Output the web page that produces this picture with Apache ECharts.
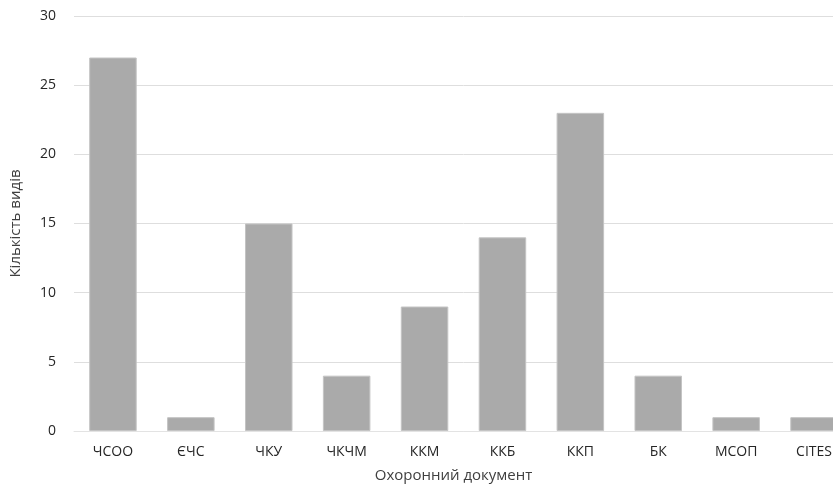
<!DOCTYPE html>
<html><head><meta charset="utf-8">
<script src="https://cdn.jsdelivr.net/npm/echarts@6/dist/echarts.min.js"></script>
<style>html,body{margin:0;padding:0;background:#fff;overflow:hidden}#c{width:853px;height:497px}</style>
</head><body><div id="c"></div>
<script>
const categories = ['ЧСОО','ЄЧС','ЧКУ','ЧКЧМ','ККМ','ККБ','ККП','БК','МСОП','CITES'];
const values = [27, 1, 15, 4, 9, 14, 23, 4, 1, 1];
const yTicks = {min: 0, max: 30, interval: 5};
const font = '"Open Sans", "Noto Sans", sans-serif';
const chart = echarts.init(document.getElementById('c'));
chart.setOption({
  animation: false,
  grid: {left: 73.5, right: 0, top: 16, bottom: 66},
  xAxis: {
    type: 'category', data: categories,
    name: 'Охоронний документ', nameLocation: 'middle', nameGap: 37,
    nameTextStyle: {fontFamily: font, fontSize: 15, color: '#404040', padding: [0, 20, 0, 0]},
    axisLine: {lineStyle: {color: '#e3e3e3'}},
    axisTick: {show: false},
    axisLabel: {fontFamily: font, fontSize: 14, color: '#262626', margin: 14}
  },
  yAxis: {
    type: 'value', min: yTicks.min, max: yTicks.max, interval: yTicks.interval,
    name: 'Кількість видів', nameLocation: 'middle', nameGap: 51, nameRotate: 90,
    nameTextStyle: {fontFamily: font, fontSize: 15, color: '#404040'},
    axisLine: {show: false}, axisTick: {show: false},
    splitLine: {lineStyle: {color: '#dedede'}},
    axisLabel: {fontFamily: font, fontSize: 14, color: '#262626', margin: 18}
  },
  series: [{
    type: 'bar', data: values, barCategoryGap: '39%',
    itemStyle: {color: '#aaaaaa', borderColor: '#c4c4c4', borderWidth: 1}
  }]
});
</script></body></html>
